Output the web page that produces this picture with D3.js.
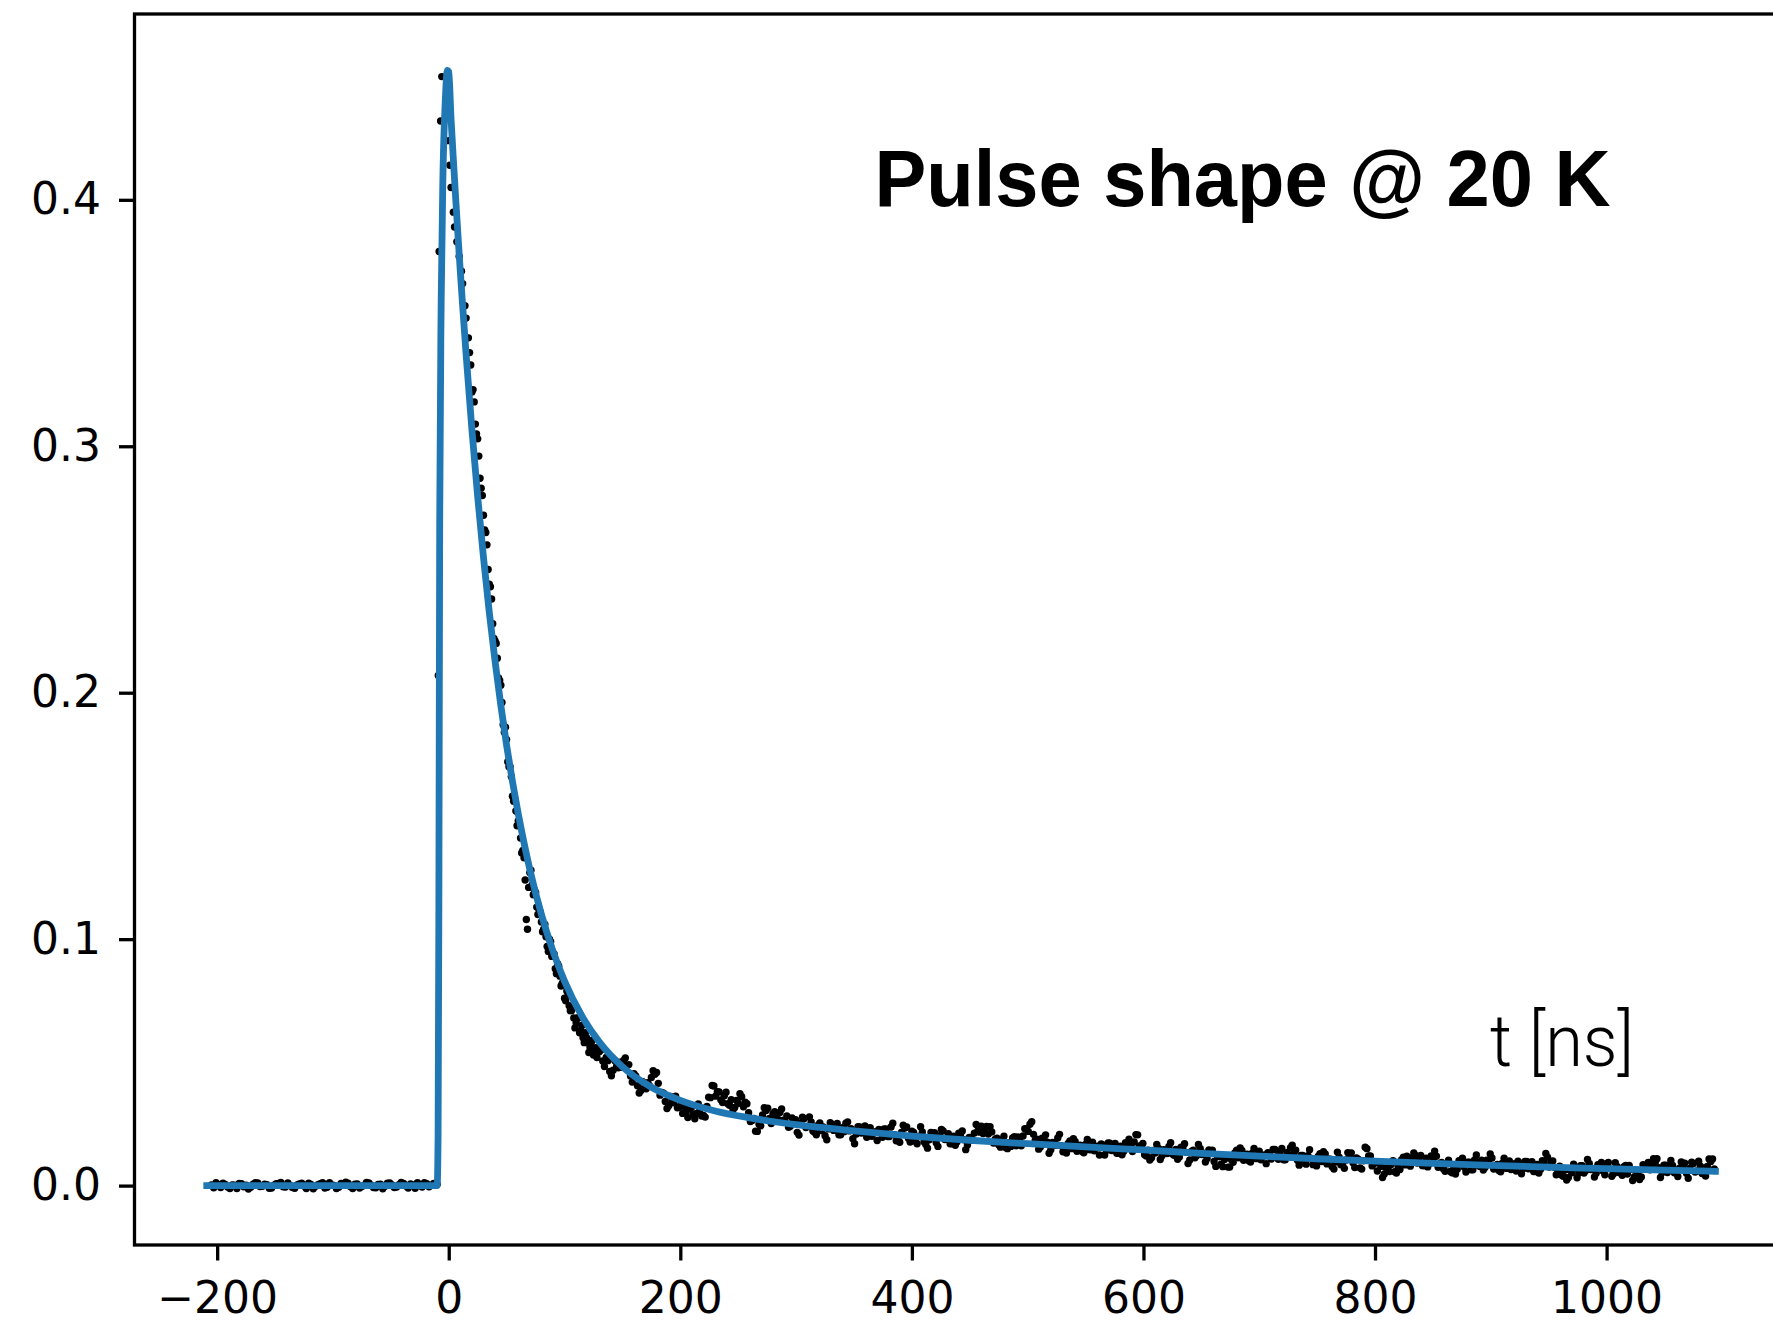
<!DOCTYPE html>
<html>
<head>
<meta charset="utf-8">
<script src="https://cdn.jsdelivr.net/npm/d3@7"></script>
<style>
  html, body { margin: 0; padding: 0; background: #fff; }
  svg { display: block; }
</style>
</head>
<body>
<div id="chart"></div>
<script>
// Pulse shape @ 20 K — measured samples (black dots) and two-exponential fit (blue)

// measured samples [t in ns, amplitude]
const baselinePts = [
  [-205, 0.0003], [-201, 0.0012], [-197, -0.0008], [-193, 0.0005], [-189, -0.0012], [-185, 0.0002],
  [-181, 0.0009], [-177, -0.0005], [-173, -0.0014], [-169, 0.0006], [-165, 0.0011], [-161, -0.0003],
  [-157, 0.0004], [-153, -0.0010], [-149, 0.0008], [-145, 0.0013], [-141, -0.0006], [-137, 0.0001],
  [-133, -0.0011], [-129, 0.0007], [-125, -0.0002], [-121, 0.0010], [-117, -0.0013], [-113, 0.0004],
  [-109, 0.0012], [-105, -0.0007], [-101, 0.0003], [-97, -0.0012], [-93, 0.0009], [-89, 0.0014],
  [-85, -0.0004], [-81, 0.0006], [-77, -0.0010], [-73, 0.0002], [-69, 0.0011], [-65, -0.0008],
  [-61, 0.0005], [-57, -0.0013], [-53, 0.0010], [-49, 0.0003], [-45, -0.0006], [-41, 0.0013],
  [-37, -0.0002], [-33, 0.0007], [-29, -0.0011], [-25, 0.0004], [-21, 0.0012], [-17, -0.0005],
  [-13, 0.0009], [-10, 0.0006]
];

const baselineOdd = [
  [-203, -0.0009], [-199, 0.0004], [-195, 0.0010], [-191, -0.0006], [-187, 0.0003], [-183, -0.0012],
  [-179, 0.0008], [-175, 0.0002], [-171, -0.0007], [-167, 0.0012], [-163, -0.0004], [-159, 0.0006],
  [-155, -0.0011], [-151, 0.0002], [-147, 0.0009], [-143, -0.0005], [-139, 0.0011], [-135, -0.0008],
  [-131, 0.0003], [-127, 0.0010], [-123, -0.0012], [-119, 0.0005], [-115, -0.0003], [-111, 0.0008],
  [-107, -0.0010], [-103, 0.0012], [-99, 0.0001], [-95, -0.0007], [-91, 0.0004], [-87, 0.0010],
  [-83, -0.0012], [-79, 0.0007], [-75, -0.0004], [-71, 0.0013], [-67, 0.0002], [-63, -0.0009],
  [-59, 0.0006], [-55, -0.0003], [-51, 0.0011], [-47, -0.0008], [-43, 0.0004], [-39, 0.0009],
  [-35, -0.0010], [-31, 0.0003], [-27, 0.0012], [-23, -0.0006], [-19, 0.0008], [-15, 0.0002]
];

const risePts = [[-9, 0.207], [-8.3, 0.379], [-7, 0.432], [-6, 0.450]];

const decayPts = [
  [0, 0.424], [1, 0.414], [2, 0.405], [4, 0.395], [5, 0.389], [7, 0.383], [9, 0.377], [11, 0.371],
  [12, 0.366], [14, 0.357], [15, 0.352], [17, 0.344], [18, 0.338], [20, 0.322], [22, 0.318], [24, 0.305],
  [26, 0.296], [28, 0.283], [30, 0.272], [32, 0.265], [34, 0.250], [36, 0.243], [38, 0.228], [40, 0.221],
  [42, 0.214], [44, 0.205], [46, 0.196], [48, 0.184], [50, 0.181], [52, 0.170], [54, 0.166], [56, 0.156],
  [58, 0.152], [60, 0.148], [62, 0.141], [64, 0.136], [66, 0.124], [67, 0.108], [68, 0.104], [70, 0.127],
  [72, 0.122], [74, 0.120], [76, 0.113], [78, 0.112], [80, 0.107], [82, 0.104], [84, 0.101], [86, 0.095],
  [88, 0.099], [90, 0.094], [92, 0.088], [94, 0.090], [96, 0.085], [98, 0.082], [100, 0.076], [102, 0.079],
  [104, 0.073], [106, 0.071], [108, 0.068], [110, 0.066], [112, 0.068], [114, 0.063], [116, 0.060], [118, 0.062],
  [120, 0.058], [122, 0.056], [124, 0.059], [126, 0.055], [128, 0.052]
];

const decayOdd = [
  [19, 0.333], [21, 0.323], [23, 0.309], [25, 0.303], [27, 0.287], [29, 0.280], [31, 0.266], [33, 0.260],
  [35, 0.244], [37, 0.238], [39, 0.222], [41, 0.220], [43, 0.206], [45, 0.203], [47, 0.187], [49, 0.186],
  [51, 0.172], [53, 0.170], [55, 0.158], [57, 0.157], [59, 0.146], [61, 0.147], [63, 0.135], [65, 0.133],
  [69, 0.121], [71, 0.128], [73, 0.118], [75, 0.119], [77, 0.110], [79, 0.111], [81, 0.103], [83, 0.106],
  [85, 0.097], [87, 0.100], [89, 0.093], [91, 0.094], [93, 0.086], [95, 0.089], [97, 0.081], [99, 0.083],
  [101, 0.075], [103, 0.077], [105, 0.071], [107, 0.072], [109, 0.064], [111, 0.068], [113, 0.062], [115, 0.065],
  [117, 0.058], [119, 0.060], [121, 0.054], [123, 0.058], [125, 0.053], [127, 0.056]
];

const tailPts = [
  [130, 0.0543], [133, 0.0506], [136, 0.0520], [139, 0.0463], [142, 0.0468], [145, 0.0485], [148, 0.0501],
  [151, 0.0508], [154, 0.0487], [157, 0.0445], [160, 0.0454], [163, 0.0405], [166, 0.0386], [169, 0.0397],
  [172, 0.0418], [175, 0.0439], [178, 0.0452], [181, 0.0415], [184, 0.0378], [187, 0.0341], [190, 0.0324],
  [193, 0.0339], [196, 0.0363], [199, 0.0318], [202, 0.0293], [205, 0.0298], [208, 0.0313], [211, 0.0288],
  [214, 0.0293], [217, 0.0309], [220, 0.0285], [223, 0.0321], [226, 0.0357], [229, 0.0404], [232, 0.0381],
  [235, 0.0348], [238, 0.0365], [241, 0.0332], [244, 0.0349], [247, 0.0317], [250, 0.0334], [253, 0.0361],
  [256, 0.0338], [259, 0.0296], [262, 0.0264], [265, 0.0221], [268, 0.0249], [271, 0.0287], [274, 0.0305],
  [277, 0.0273], [280, 0.0291], [283, 0.0279], [286, 0.0297], [289, 0.0265], [292, 0.0283], [295, 0.0241],
  [298, 0.0268], [301, 0.0216], [304, 0.0254], [307, 0.0272], [310, 0.0240], [313, 0.0258], [316, 0.0216],
  [319, 0.0245], [322, 0.0223], [325, 0.0202], [328, 0.0230], [331, 0.0249], [334, 0.0238], [337, 0.0206],
  [340, 0.0235], [343, 0.0253], [346, 0.0222], [349, 0.0190], [352, 0.0209], [355, 0.0238], [358, 0.0228],
  [361, 0.0196], [364, 0.0235], [367, 0.0214], [370, 0.0183], [373, 0.0222], [376, 0.0230], [379, 0.0199],
  [382, 0.0238], [385, 0.0207], [388, 0.0186], [391, 0.0216], [394, 0.0234], [397, 0.0192], [400, 0.0221],
  [403, 0.0180], [406, 0.0199], [409, 0.0218], [412, 0.0167], [415, 0.0186], [418, 0.0205], [421, 0.0174],
  [424, 0.0203], [427, 0.0222], [430, 0.0191], [433, 0.0170], [436, 0.0200], [439, 0.0178], [442, 0.0207],
  [445, 0.0186], [448, 0.0165], [451, 0.0195], [454, 0.0213], [457, 0.0222], [460, 0.0241], [463, 0.0230],
  [466, 0.0209], [469, 0.0218], [472, 0.0188], [475, 0.0166], [478, 0.0185], [481, 0.0155], [484, 0.0174],
  [487, 0.0193], [490, 0.0162], [493, 0.0182], [496, 0.0201], [499, 0.0230], [502, 0.0249], [505, 0.0208],
  [508, 0.0188], [511, 0.0157], [514, 0.0186], [517, 0.0176], [520, 0.0145], [523, 0.0174], [526, 0.0193],
  [529, 0.0162], [532, 0.0142], [535, 0.0171], [538, 0.0150], [541, 0.0179], [544, 0.0159], [547, 0.0138],
  [550, 0.0167], [553, 0.0146], [556, 0.0176], [559, 0.0155], [562, 0.0124], [565, 0.0164], [568, 0.0143],
  [571, 0.0172], [574, 0.0151], [577, 0.0131], [580, 0.0160], [583, 0.0139], [586, 0.0168], [589, 0.0158],
  [592, 0.0177], [595, 0.0206], [598, 0.0156], [601, 0.0125], [604, 0.0144], [607, 0.0113], [610, 0.0132],
  [613, 0.0151], [616, 0.0121], [619, 0.0140], [622, 0.0159], [625, 0.0128], [628, 0.0147], [631, 0.0116],
  [634, 0.0155], [637, 0.0135], [640, 0.0104], [643, 0.0144], [646, 0.0122], [649, 0.0151], [652, 0.0131],
  [655, 0.0110], [658, 0.0140], [661, 0.0098], [664, 0.0118], [667, 0.0087], [670, 0.0106], [673, 0.0075],
  [676, 0.0105], [679, 0.0134], [682, 0.0113], [685, 0.0143], [688, 0.0122], [691, 0.0101], [694, 0.0131],
  [697, 0.0110], [700, 0.0140], [703, 0.0119], [706, 0.0089], [709, 0.0128], [712, 0.0147], [715, 0.0117],
  [718, 0.0136], [721, 0.0105], [724, 0.0135], [727, 0.0154], [730, 0.0134], [733, 0.0103], [736, 0.0122],
  [739, 0.0092], [742, 0.0121], [745, 0.0110], [748, 0.0090], [751, 0.0119], [754, 0.0098], [757, 0.0128],
  [760, 0.0107], [763, 0.0077], [766, 0.0096], [769, 0.0115], [772, 0.0085], [775, 0.0104], [778, 0.0123],
  [781, 0.0093], [784, 0.0112], [787, 0.0072], [790, 0.0101], [793, 0.0150], [796, 0.0120], [799, 0.0089],
  [802, 0.0059], [805, 0.0078], [808, 0.0047], [811, 0.0067], [814, 0.0086], [817, 0.0056], [820, 0.0075],
  [823, 0.0105], [826, 0.0084], [829, 0.0104], [832, 0.0113], [835, 0.0122], [838, 0.0102], [841, 0.0081],
  [844, 0.0111], [847, 0.0090], [850, 0.0110], [853, 0.0119], [856, 0.0089], [859, 0.0068], [862, 0.0088],
  [865, 0.0057], [868, 0.0077], [871, 0.0066], [874, 0.0096], [877, 0.0075], [880, 0.0095], [883, 0.0064],
  [886, 0.0104], [889, 0.0083], [892, 0.0103], [895, 0.0073], [898, 0.0093], [901, 0.0112], [904, 0.0081],
  [907, 0.0061], [910, 0.0091], [913, 0.0070], [916, 0.0100], [919, 0.0079], [922, 0.0059], [925, 0.0088],
  [928, 0.0068], [931, 0.0098], [934, 0.0077], [937, 0.0057], [940, 0.0086], [943, 0.0066], [946, 0.0095],
  [949, 0.0115], [952, 0.0095], [955, 0.0074], [958, 0.0054], [961, 0.0043], [964, 0.0063], [967, 0.0033],
  [970, 0.0052], [973, 0.0072], [976, 0.0051], [979, 0.0081], [982, 0.0061], [985, 0.0090], [988, 0.0070],
  [991, 0.0050], [994, 0.0079], [997, 0.0059], [1000, 0.0089], [1003, 0.0068], [1006, 0.0048], [1009, 0.0078],
  [1012, 0.0057], [1015, 0.0077], [1018, 0.0047], [1021, 0.0066], [1024, 0.0036], [1027, 0.0055], [1030, 0.0035],
  [1033, 0.0075], [1036, 0.0094], [1039, 0.0084], [1042, 0.0094], [1045, 0.0073], [1048, 0.0053], [1051, 0.0083],
  [1054, 0.0062], [1057, 0.0082], [1060, 0.0052], [1063, 0.0071], [1066, 0.0081], [1069, 0.0050], [1072, 0.0070],
  [1075, 0.0090], [1078, 0.0059], [1081, 0.0079], [1084, 0.0049], [1087, 0.0078], [1090, 0.0098], [1093, 0.0068]
];

const tailOdd = [
  [131.5, 0.0550], [134.5, 0.0483], [137.5, 0.0507], [140.5, 0.0446], [143.5, 0.0507], [146.5, 0.0478],
  [149.5, 0.0480], [152.5, 0.0518], [155.5, 0.0491], [158.5, 0.0420], [161.5, 0.0445], [164.5, 0.0376],
  [167.5, 0.0422], [170.5, 0.0393], [173.5, 0.0404], [176.5, 0.0466], [179.5, 0.0459], [182.5, 0.0367],
  [185.5, 0.0375], [188.5, 0.0313], [191.5, 0.0362], [194.5, 0.0336], [197.5, 0.0316], [200.5, 0.0326],
  [203.5, 0.0321], [206.5, 0.0276], [209.5, 0.0316], [212.5, 0.0271], [215.5, 0.0331], [218.5, 0.0282],
  [221.5, 0.0278], [224.5, 0.0359], [227.5, 0.0406], [230.5, 0.0363], [233.5, 0.0380], [236.5, 0.0337],
  [239.5, 0.0379], [242.5, 0.0326], [245.5, 0.0308], [248.5, 0.0346], [251.5, 0.0373], [254.5, 0.0320],
  [257.5, 0.0332], [260.5, 0.0260], [263.5, 0.0273], [266.5, 0.0220], [269.5, 0.0243], [272.5, 0.0316],
  [275.5, 0.0314], [278.5, 0.0252], [281.5, 0.0300], [284.5, 0.0268], [287.5, 0.0311], [290.5, 0.0259],
  [293.5, 0.0237], [296.5, 0.0275], [299.5, 0.0267], [302.5, 0.0205], [305.5, 0.0278], [308.5, 0.0236],
  [311.5, 0.0279], [314.5, 0.0222], [317.5, 0.0206], [320.5, 0.0254], [323.5, 0.0238], [326.5, 0.0186],
  [329.5, 0.0255], [332.5, 0.0224], [335.5, 0.0252], [338.5, 0.0206], [341.5, 0.0219], [344.5, 0.0258],
  [347.5, 0.0231], [350.5, 0.0170], [353.5, 0.0239], [356.5, 0.0213], [359.5, 0.0242], [362.5, 0.0201],
  [365.5, 0.0200], [368.5, 0.0219], [371.5, 0.0228], [374.5, 0.0196], [377.5, 0.0230], [380.5, 0.0199],
  [383.5, 0.0253], [386.5, 0.0182], [389.5, 0.0176], [392.5, 0.0245], [395.5, 0.0238], [398.5, 0.0177],
  [401.5, 0.0216], [404.5, 0.0170], [407.5, 0.0239], [410.5, 0.0178], [413.5, 0.0152], [416.5, 0.0216],
  [419.5, 0.0215], [422.5, 0.0159], [425.5, 0.0228], [428.5, 0.0187], [431.5, 0.0211], [434.5, 0.0170],
  [437.5, 0.0164], [440.5, 0.0213], [443.5, 0.0222], [446.5, 0.0146], [449.5, 0.0195], [452.5, 0.0184],
  [455.5, 0.0248], [458.5, 0.0217], [461.5, 0.0211], [464.5, 0.0240], [467.5, 0.0239], [470.5, 0.0173],
  [473.5, 0.0192], [476.5, 0.0156], [479.5, 0.0200], [482.5, 0.0150], [485.5, 0.0159], [488.5, 0.0198],
  [491.5, 0.0197], [494.5, 0.0162], [497.5, 0.0231], [500.5, 0.0220], [503.5, 0.0259], [506.5, 0.0183],
  [509.5, 0.0148], [512.5, 0.0192], [515.5, 0.0206], [518.5, 0.0131], [521.5, 0.0175], [524.5, 0.0164],
  [527.5, 0.0208], [530.5, 0.0137], [533.5, 0.0132], [536.5, 0.0181], [539.5, 0.0190], [542.5, 0.0139],
  [545.5, 0.0164], [548.5, 0.0133], [551.5, 0.0187], [554.5, 0.0146], [557.5, 0.0141], [560.5, 0.0160],
  [563.5, 0.0169], [566.5, 0.0124], [569.5, 0.0173], [572.5, 0.0142], [575.5, 0.0171], [578.5, 0.0131],
  [581.5, 0.0125], [584.5, 0.0174], [587.5, 0.0188], [590.5, 0.0138], [593.5, 0.0207], [596.5, 0.0161],
  [599.5, 0.0171], [602.5, 0.0120], [605.5, 0.0104], [608.5, 0.0143], [611.5, 0.0167], [614.5, 0.0106],
  [617.5, 0.0146], [620.5, 0.0130], [623.5, 0.0174], [626.5, 0.0123], [629.5, 0.0107], [632.5, 0.0156],
  [635.5, 0.0170], [638.5, 0.0090], [641.5, 0.0139], [644.5, 0.0113], [647.5, 0.0167], [650.5, 0.0126],
  [653.5, 0.0096], [656.5, 0.0145], [659.5, 0.0144], [662.5, 0.0078], [665.5, 0.0118], [668.5, 0.0077],
  [671.5, 0.0121], [674.5, 0.0075], [677.5, 0.0095], [680.5, 0.0144], [683.5, 0.0153], [686.5, 0.0103],
  [689.5, 0.0127], [692.5, 0.0096], [695.5, 0.0151], [698.5, 0.0110], [701.5, 0.0105], [704.5, 0.0124],
  [707.5, 0.0134], [710.5, 0.0108], [713.5, 0.0147], [716.5, 0.0107], [719.5, 0.0151], [722.5, 0.0105],
  [725.5, 0.0120], [728.5, 0.0164], [731.5, 0.0144], [734.5, 0.0083], [737.5, 0.0122], [740.5, 0.0087],
  [743.5, 0.0146], [746.5, 0.0085], [749.5, 0.0080], [752.5, 0.0129], [755.5, 0.0138], [758.5, 0.0088],
  [761.5, 0.0107], [764.5, 0.0067], [767.5, 0.0136], [770.5, 0.0085], [773.5, 0.0070], [776.5, 0.0134],
  [779.5, 0.0133], [782.5, 0.0073], [785.5, 0.0107], [788.5, 0.0067], [791.5, 0.0156], [794.5, 0.0120],
  [797.5, 0.0080], [800.5, 0.0094], [803.5, 0.0094], [806.5, 0.0033], [809.5, 0.0072], [812.5, 0.0057],
  [815.5, 0.0101], [818.5, 0.0051], [821.5, 0.0065], [824.5, 0.0115], [827.5, 0.0119], [830.5, 0.0079],
  [833.5, 0.0133], [836.5, 0.0092], [839.5, 0.0122], [842.5, 0.0081], [845.5, 0.0076], [848.5, 0.0120],
  [851.5, 0.0140], [854.5, 0.0074], [857.5, 0.0094], [860.5, 0.0058], [863.5, 0.0103], [866.5, 0.0052],
  [869.5, 0.0047], [872.5, 0.0101], [875.5, 0.0111], [878.5, 0.0055], [881.5, 0.0095], [884.5, 0.0064],
  [887.5, 0.0124], [890.5, 0.0078], [893.5, 0.0063], [896.5, 0.0103], [899.5, 0.0128], [902.5, 0.0067],
  [905.5, 0.0086], [908.5, 0.0056], [911.5, 0.0111], [914.5, 0.0070], [917.5, 0.0065], [920.5, 0.0089],
  [923.5, 0.0099], [926.5, 0.0048], [929.5, 0.0098], [932.5, 0.0068], [935.5, 0.0097], [938.5, 0.0057],
  [941.5, 0.0051], [944.5, 0.0101], [947.5, 0.0130], [950.5, 0.0075], [953.5, 0.0100], [956.5, 0.0044],
  [959.5, 0.0079], [962.5, 0.0038], [965.5, 0.0023], [968.5, 0.0063], [971.5, 0.0087], [974.5, 0.0032],
  [977.5, 0.0081], [980.5, 0.0051], [983.5, 0.0106], [986.5, 0.0065], [989.5, 0.0035], [992.5, 0.0085],
  [995.5, 0.0094], [998.5, 0.0044], [1001.5, 0.0094], [1004.5, 0.0038], [1007.5, 0.0093], [1010.5, 0.0053],
  [1013.5, 0.0042], [1016.5, 0.0082], [1019.5, 0.0082], [1022.5, 0.0021], [1025.5, 0.0061], [1028.5, 0.0025],
  [1031.5, 0.0085], [1034.5, 0.0070], [1037.5, 0.0064], [1040.5, 0.0109], [1043.5, 0.0109], [1046.5, 0.0033],
  [1049.5, 0.0083], [1052.5, 0.0053], [1055.5, 0.0102], [1058.5, 0.0052], [1061.5, 0.0037], [1064.5, 0.0096],
  [1067.5, 0.0091], [1070.5, 0.0030], [1073.5, 0.0095], [1076.5, 0.0055], [1079.5, 0.0099], [1082.5, 0.0049],
  [1085.5, 0.0039], [1088.5, 0.0108], [1091.5, 0.0108]
];

// fitted curve [t in ns, amplitude]
const fitPts = [
  [-209, 0], [-10, 0], [-9.2, 0.02], [-8.5, 0.12], [-7.8, 0.27], [-6.5, 0.36], [-5, 0.41], [-3, 0.44],
  [-1.2, 0.4525], [0, 0.452], [2, 0.4328], [4, 0.4163], [6, 0.4005], [8, 0.3854], [10, 0.3709], [12, 0.357],
  [15, 0.3372], [20, 0.3068], [25, 0.2795], [30, 0.2549], [35, 0.2327], [40, 0.2128], [45, 0.1948],
  [50, 0.1786], [55, 0.1641], [60, 0.1509], [65, 0.1391], [70, 0.1284], [80, 0.1101], [90, 0.0952],
  [100, 0.083], [115, 0.0688], [130, 0.0583], [150, 0.0482], [175, 0.0399], [200, 0.0346], [230, 0.0303],
  [260, 0.0275], [300, 0.0247], [350, 0.0222], [400, 0.0201], [450, 0.0184], [500, 0.0170], [550, 0.0157],
  [600, 0.0145], [650, 0.0131], [700, 0.0120], [750, 0.0109], [800, 0.0099], [850, 0.0090], [900, 0.0082],
  [950, 0.0075], [1000, 0.0069], [1050, 0.0063], [1094, 0.0058]
];

const xTicks = [-200, 0, 200, 400, 600, 800, 1000];
const yTicks = [0, 0.1, 0.2, 0.3, 0.4];
const xDomain = [-271.4, 1158.4];
const yDomain = [-0.0241, 0.4754];
const TITLE = 'Pulse shape @ 20 K';
const X_LABEL = 't [ns]';

const W = 1773, H = 1326;
const FRAME = { left: 134.5, top: 14, right: 1790, bottom: 1245 };
const SPINE_W = 3.3;
const TICK_LEN = 15.5;
const DOT_R = 3.7;
const FIT_COLOR = '#1f77b4';

const svg = d3.select('#chart').append('svg')
  .attr('width', W)
  .attr('height', H)
  .style('background', '#fff');

const x = d3.scaleLinear().domain(xDomain).range([FRAME.left, FRAME.right]);
const y = d3.scaleLinear().domain(yDomain).range([FRAME.bottom, FRAME.top]);

// measured points, drawn under the fit
const measured = [...baselinePts, ...baselineOdd, ...risePts, ...decayPts, ...decayOdd, ...tailPts, ...tailOdd];
svg.append('g')
  .selectAll('circle')
  .data(measured)
  .enter().append('circle')
  .attr('cx', d => x(d[0]))
  .attr('cy', d => y(d[1]))
  .attr('r', DOT_R)
  .attr('fill', '#000');

const line = d3.line()
  .x(d => x(d[0]))
  .y(d => y(d[1]))
  .curve(d3.curveMonotoneX);

svg.append('path')
  .datum(fitPts)
  .attr('d', line)
  .attr('fill', 'none')
  .attr('stroke', FIT_COLOR)
  .attr('stroke-width', 6.8)
  .attr('stroke-linejoin', 'round')
  .attr('stroke-linecap', 'square');

// frame (right side runs past the picture edge)
svg.append('rect')
  .attr('x', FRAME.left)
  .attr('y', FRAME.top)
  .attr('width', FRAME.right - FRAME.left)
  .attr('height', FRAME.bottom - FRAME.top)
  .attr('fill', 'none')
  .attr('stroke', '#000')
  .attr('stroke-width', SPINE_W);

const fmtX = d3.format('d');
const fmtY = d3.format('.1f');

const xAxis = d3.axisBottom(x).tickValues(xTicks).tickFormat(fmtX)
  .tickSize(TICK_LEN).tickSizeOuter(0).tickPadding(21);
const gx = svg.append('g').attr('transform', `translate(0,${FRAME.bottom})`).call(xAxis);

const yAxis = d3.axisLeft(y).tickValues(yTicks).tickFormat(fmtY)
  .tickSize(TICK_LEN).tickSizeOuter(0).tickPadding(18);
const gy = svg.append('g').attr('transform', `translate(${FRAME.left},0)`).call(yAxis);

[gx, gy].forEach(g => {
  g.select('.domain').remove();
  g.selectAll('.tick line').attr('stroke', '#000').attr('stroke-width', SPINE_W);
  g.selectAll('.tick text')
    .attr('fill', '#000')
    .style('font-family', '"DejaVu Sans", sans-serif')
    .style('font-size', '44px');
});

svg.append('text')
  .attr('x', 874.5)
  .attr('y', 205.5)
  .attr('textLength', 736)
  .attr('lengthAdjust', 'spacingAndGlyphs')
  .style('font-family', '"Liberation Sans", Arial, sans-serif')
  .style('font-weight', 'bold')
  .style('font-size', '80px')
  .attr('fill', '#000')
  .text(TITLE);

svg.append('text')
  .attr('x', 1490)
  .attr('y', 1066)
  .attr('textLength', 144)
  .attr('lengthAdjust', 'spacingAndGlyphs')
  .style('font-family', 'Roboto, Lato, "Liberation Sans", sans-serif')
  .style('font-weight', 300)
  .style('font-size', '72px')
  .attr('fill', '#000')
  .text(X_LABEL);
</script>
</body>
</html>
